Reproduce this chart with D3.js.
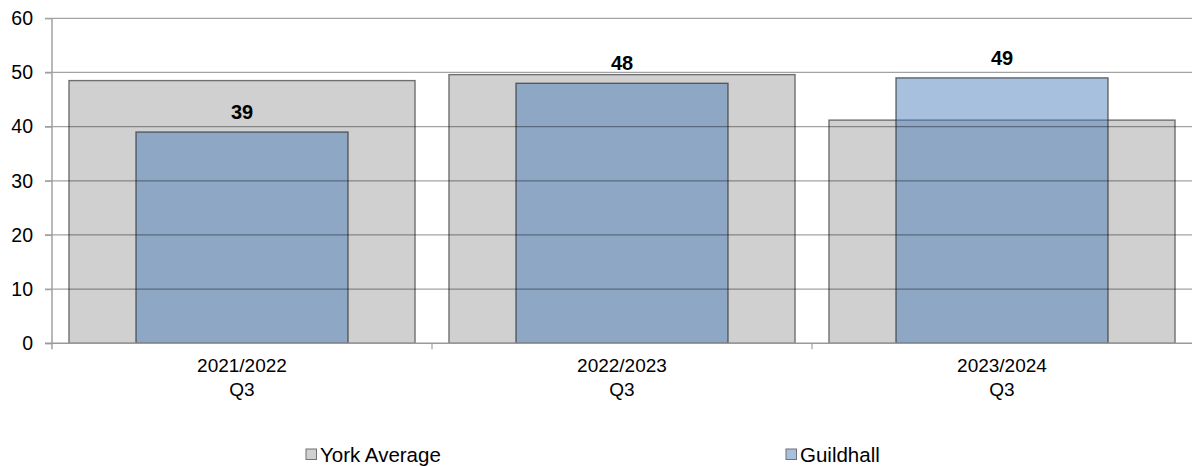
<!DOCTYPE html>
<html>
<head>
<meta charset="utf-8">
<script src="https://cdn.jsdelivr.net/npm/d3@7/dist/d3.min.js"></script>
<style>
  html, body { margin: 0; padding: 0; background: #fff; }
  svg { display: block; font-family: "Liberation Sans", Arial, sans-serif; }
</style>
</head>
<body>
<svg id="chart" width="1192" height="466"></svg>
<script>
const categories = ["2021/2022\nQ3", "2022/2023\nQ3", "2023/2024\nQ3"];
const yorkAverage = [48.5, 49.6, 41.2];
const guildhall = [39, 48, 49];
const yTicks = [0, 10, 20, 30, 40, 50, 60];
const seriesNames = ["York Average", "Guildhall"];

const svg = d3.select("#chart");
const plotLeft = 52, plotRight = 1192, plotTop = 18.3, plotBottom = 343.3;

const x = d3.scaleBand().domain(categories).range([plotLeft, plotRight]).paddingInner(0).paddingOuter(0);
const y = d3.scaleLinear().domain([0, 60]).range([plotBottom, plotTop]);

const grayInset = 17 / 380;
const blueW = 212 / 380;

// York Average bars
svg.append("g").selectAll("rect").data(categories).join("rect")
  .attr("x", d => x(d) + x.bandwidth() * grayInset)
  .attr("width", x.bandwidth() * (1 - 2 * grayInset))
  .attr("y", (d, i) => y(yorkAverage[i]))
  .attr("height", (d, i) => y(0) - y(yorkAverage[i]))
  .attr("fill", "#d0d0d0")
  .attr("stroke", "#707070")
  .attr("stroke-width", 1.4);

// Guildhall bars (semi-transparent)
svg.append("g").selectAll("rect").data(categories).join("rect")
  .attr("x", d => x(d) + x.bandwidth() * (1 - blueW) / 2)
  .attr("width", x.bandwidth() * blueW)
  .attr("y", (d, i) => y(guildhall[i]))
  .attr("height", (d, i) => y(0) - y(guildhall[i]))
  .attr("fill", "rgb(68,121,185)")
  .attr("fill-opacity", 0.47)
  .attr("stroke", "rgba(50,50,50,0.7)")
  .attr("stroke-width", 1.4);

// Gridlines
svg.append("g").selectAll("line").data(yTicks.filter(t => t > 0)).join("line")
  .attr("x1", plotLeft - 7).attr("x2", plotRight)
  .attr("y1", d => y(d)).attr("y2", d => y(d))
  .attr("stroke", "rgba(0,0,0,0.36)")
  .attr("stroke-width", 1.2);

// Y axis
const yAxis = d3.axisLeft(y).tickValues(yTicks).tickSize(7).tickPadding(12).tickFormat(d3.format("d"));
const gy = svg.append("g").attr("transform", `translate(${plotLeft},0)`).call(yAxis);
gy.select(".domain").attr("stroke", "#a0a0a0").attr("stroke-width", 1.5).attr("d", `M0,${plotTop}V${plotBottom + 6}`);
gy.selectAll(".tick line").attr("stroke", "#a0a0a0").attr("stroke-width", 1.2);
gy.selectAll(".tick text").attr("font-size", 19.5).attr("fill", "#000").attr("font-family", "Liberation Sans, Arial, sans-serif");

// X axis baseline
svg.append("line").attr("x1", plotLeft - 7).attr("x2", plotRight)
  .attr("y1", y(0)).attr("y2", y(0))
  .attr("stroke", "#9a9a9a").attr("stroke-width", 1.5);
// category boundary ticks
svg.append("g").selectAll("line").data(categories.slice(1)).join("line")
  .attr("x1", d => x(d)).attr("x2", d => x(d))
  .attr("y1", y(0)).attr("y2", y(0) + 6)
  .attr("stroke", "#a0a0a0").attr("stroke-width", 1.2);

// X labels
const xl = svg.append("g").selectAll("text").data(categories).join("text")
  .attr("x", d => x(d) + x.bandwidth() / 2)
  .attr("text-anchor", "middle")
  .attr("font-size", 19)
  .attr("fill", "#000");
xl.each(function(d) {
  const lines = d.split("\n");
  d3.select(this).selectAll("tspan").data(lines).join("tspan")
    .attr("x", x(d) + x.bandwidth() / 2)
    .attr("y", (l, i) => 372 + i * 24)
    .text(l => l);
});

// Value labels
svg.append("g").selectAll("text").data(categories).join("text")
  .attr("x", d => x(d) + x.bandwidth() / 2)
  .attr("y", (d, i) => y(guildhall[i]) - 13)
  .attr("text-anchor", "middle")
  .attr("font-size", 20)
  .attr("font-weight", "bold")
  .attr("fill", "#000")
  .text((d, i) => guildhall[i]);

// Legend
const legendX = [306, 786];
const legendFill = ["#d0d0d0", "rgb(167,192,222)"];
const lg = svg.append("g").selectAll("g").data(seriesNames).join("g")
  .attr("transform", (d, i) => `translate(${legendX[i]},0)`);
lg.append("rect").attr("x", 0).attr("y", 449).attr("width", 10.5).attr("height", 10.5)
  .attr("fill", (d, i) => legendFill[i]).attr("stroke", "#707070").attr("stroke-width", 1);
lg.append("text").attr("x", 14).attr("y", 461.7).attr("font-size", 20.5).attr("fill", "#000").text(d => d);
</script>
</body>
</html>
